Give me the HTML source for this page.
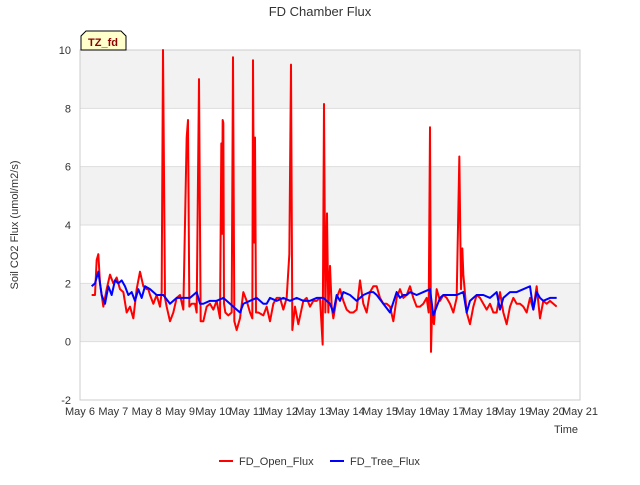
<!DOCTYPE html>
<html><head><meta charset="utf-8"><style>
body{margin:0;background:#fff;font-family:"Liberation Sans",sans-serif;}
svg text{font-family:"Liberation Sans",sans-serif;}
</style></head><body>
<svg id="chart" width="640" height="480" xmlns="http://www.w3.org/2000/svg">
<text x="320" y="16" text-anchor="middle" font-size="13" fill="#333">FD Chamber Flux</text>
<g id="bands"></g><g id="grid"></g>
<rect x="80" y="50" width="500" height="350" fill="none" stroke="#ccc"/>
<g id="series"></g><g id="axes"></g>
<text transform="translate(18,225) rotate(-90)" text-anchor="middle" font-size="11" fill="#333">Soil CO2 Flux (umol/m2/s)</text>
<text x="578" y="433" text-anchor="end" font-size="11" fill="#333">Time</text>
<g>
<path d="M81,50 L81,36 L86,31 L121,31 L126,36 L126,50 Z" fill="#ffffcc" stroke="#000"/>
<text x="103" y="46" text-anchor="middle" font-size="11" font-weight="bold" fill="#8b0000">TZ_fd</text></g>
<g>
<line x1="219" y1="461" x2="233" y2="461" stroke="#f00" stroke-width="2"/>
<text x="239" y="465" font-size="11" fill="#333">FD_Open_Flux</text>
<line x1="330" y1="461" x2="344" y2="461" stroke="#00f" stroke-width="2"/>
<text x="350" y="465" font-size="11" fill="#333">FD_Tree_Flux</text></g>
</svg>
<script>
const yTicks=[-2,0,2,4,6,8,10];
const xTickLabels=["May 6","May 7","May 8","May 9","May 10","May 11","May 12","May 13","May 14","May 15","May 16","May 17","May 18","May 19","May 20","May 21"];
const openT=[0.35,0.45,0.5,0.55,0.6,0.7,0.8,0.9,1.0,1.1,1.2,1.3,1.4,1.5,1.6,1.7,1.8,1.9,2.0,2.05,2.1,2.2,2.3,2.4,2.45,2.49,2.55,2.6,2.7,2.8,2.9,3.0,3.1,3.2,3.24,3.28,3.35,3.45,3.5,3.57,3.62,3.7,3.8,3.9,4.0,4.1,4.2,4.24,4.26,4.28,4.3,4.32,4.36,4.45,4.55,4.59,4.63,4.7,4.8,4.9,5.0,5.1,5.17,5.19,5.22,5.25,5.28,5.35,5.5,5.6,5.7,5.8,5.9,6.0,6.1,6.2,6.28,6.33,6.37,6.45,6.55,6.7,6.8,6.9,7.0,7.1,7.2,7.28,7.32,7.36,7.41,7.45,7.5,7.55,7.6,7.7,7.8,7.9,8.0,8.1,8.2,8.3,8.4,8.5,8.6,8.7,8.8,8.9,9.0,9.1,9.2,9.3,9.4,9.5,9.6,9.7,9.8,9.9,10.0,10.1,10.2,10.3,10.4,10.46,10.5,10.53,10.56,10.62,10.7,10.8,10.9,11.0,11.1,11.2,11.3,11.38,11.43,11.47,11.5,11.6,11.7,11.8,11.9,12.0,12.1,12.2,12.3,12.4,12.5,12.6,12.7,12.8,12.9,13.0,13.1,13.2,13.3,13.4,13.5,13.6,13.7,13.8,13.9,14.0,14.1,14.2,14.3];
const openV=[1.6,1.6,2.8,3.0,2.0,1.2,1.8,2.3,2.0,2.2,1.8,1.7,1.0,1.2,0.8,1.8,2.4,1.9,1.8,1.8,1.6,1.3,1.6,1.2,1.7,10.0,1.5,1.2,0.7,1.0,1.5,1.6,1.1,7.0,7.6,1.2,1.3,1.3,1.0,9.0,0.7,0.7,1.2,1.3,1.1,1.4,0.8,6.8,3.7,7.6,7.5,1.3,1.0,0.9,1.0,9.75,0.7,0.4,0.8,1.7,1.4,1.0,0.8,9.65,3.4,7.0,1.0,1.0,0.9,1.2,0.7,1.3,1.5,1.5,1.1,1.5,3.0,9.5,0.4,1.2,0.6,1.4,1.5,1.2,1.4,1.4,1.5,-0.1,8.15,1.0,4.4,1.0,2.6,1.2,0.8,1.5,1.8,1.4,1.1,1.0,1.0,1.1,2.1,1.3,1.0,1.7,1.9,1.9,1.5,1.3,1.3,1.2,0.7,1.5,1.8,1.5,1.6,1.9,1.5,1.2,1.2,1.3,1.5,1.0,7.35,-0.35,1.0,0.6,1.8,1.4,1.6,1.5,1.3,1.0,1.5,6.35,1.8,3.2,2.3,1.0,0.6,1.2,1.6,1.5,1.3,1.1,1.3,1.0,1.0,1.7,1.0,0.6,1.2,1.5,1.3,1.3,1.2,1.0,1.5,1.1,1.9,0.8,1.4,1.3,1.4,1.3,1.2];
const treeT=[0.35,0.45,0.55,0.65,0.75,0.85,0.95,1.05,1.15,1.25,1.35,1.45,1.55,1.65,1.75,1.85,1.95,2.1,2.3,2.5,2.7,2.9,3.1,3.3,3.5,3.6,3.7,3.9,4.1,4.3,4.5,4.7,4.8,4.9,5.1,5.3,5.5,5.6,5.7,5.9,6.1,6.3,6.5,6.7,6.9,7.1,7.3,7.5,7.6,7.7,7.8,7.9,8.1,8.3,8.5,8.7,8.8,8.9,9.1,9.3,9.5,9.6,9.7,9.8,9.9,10.1,10.3,10.5,10.6,10.7,10.8,10.9,11.1,11.3,11.5,11.6,11.7,11.8,11.9,12.1,12.3,12.5,12.6,12.7,12.8,12.9,13.1,13.3,13.5,13.6,13.7,13.8,13.9,14.1,14.3];
const treeV=[1.9,2.0,2.4,1.6,1.3,1.9,1.6,2.1,2.0,2.1,1.9,1.6,1.7,1.4,1.8,1.5,1.9,1.8,1.6,1.6,1.3,1.5,1.5,1.5,1.7,1.3,1.3,1.4,1.4,1.5,1.3,1.1,1.0,1.3,1.4,1.5,1.3,1.3,1.5,1.4,1.5,1.4,1.5,1.4,1.4,1.5,1.5,1.3,1.0,1.6,1.4,1.7,1.6,1.4,1.6,1.7,1.7,1.6,1.3,1.0,1.7,1.5,1.6,1.6,1.7,1.6,1.7,1.8,0.9,1.2,1.5,1.6,1.6,1.6,1.7,1.0,1.4,1.5,1.6,1.6,1.5,1.7,1.1,1.5,1.6,1.7,1.7,1.8,1.9,1.1,1.7,1.5,1.4,1.5,1.5];
const NS="http://www.w3.org/2000/svg";
const X=t=>80+t*500/15, Y=v=>341.67-v*350/12;
function mk(tag,parent){const e=document.createElementNS(NS,tag);document.getElementById(parent).appendChild(e);return e;}
[[10,8],[6,4],[2,0]].forEach(b=>{const r=mk('rect','bands');


r.setAttribute('x',80);r.setAttribute('y',Y(b[0]));r.setAttribute('width',500);r.setAttribute('height',Y(b[1])-Y(b[0]));r.setAttribute('fill','#f2f2f2');});
yTicks.forEach(v=>{const l=mk('line','grid');


l.setAttribute('x1',80);l.setAttribute('x2',580);l.setAttribute('y1',Y(v));l.setAttribute('y2',Y(v));l.setAttribute('stroke','#ddd');
const t=mk('text','axes');


t.setAttribute('x',71);t.setAttribute('y',Y(v)+4);t.setAttribute('text-anchor','end');t.setAttribute('font-size','11');t.setAttribute('fill','#333');t.textContent=v;});
xTickLabels.forEach((s,i)=>{const t=mk('text','axes');


t.setAttribute('x',X(i));t.setAttribute('y',415);t.setAttribute('text-anchor','middle');t.setAttribute('font-size','11');t.setAttribute('fill','#333');t.textContent=s;});
function line(T,V,c,name){const p=mk('polyline','series');


p.setAttribute('points',T.map((t,i)=>X(t)+','+Y(V[i])).join(' '));p.setAttribute('fill','none');p.setAttribute('stroke',c);p.setAttribute('stroke-width','2');p.setAttribute('stroke-linejoin','round');}
line(openT,openV,'#f00','fd-open-flux-line');
line(treeT,treeV,'#00f','fd-tree-flux-line');
</script>
</body></html>
